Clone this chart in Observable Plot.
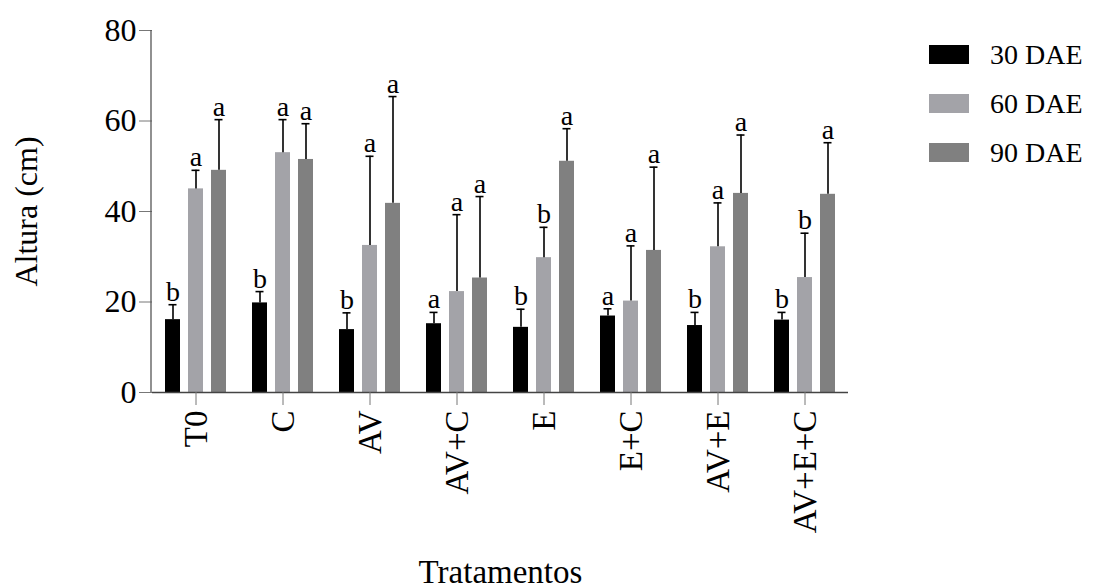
<!DOCTYPE html>
<html>
<head>
<meta charset="utf-8">
<script src="https://cdn.jsdelivr.net/npm/d3@7"></script>
<script src="https://cdn.jsdelivr.net/npm/@observablehq/plot@0.6"></script>
<style>
  html, body { margin: 0; padding: 0; background: #fff; }
  #wrap { position: relative; width: 1093px; height: 588px; overflow: hidden; font-family: "Liberation Serif", serif; }
  #chart { position: absolute; left: 0; top: 0; }
  #legend { position: absolute; left: 929px; top: 30px; }
  .item { display: flex; align-items: center; height: 49px; }
  .sw { width: 40px; height: 19px; margin-right: 21px; }
  .lb { font-size: 28px; color: #000; line-height: 1; font-family: "Liberation Serif", serif; }
  #chart svg text { font-family: "Liberation Serif", serif; }
</style>
</head>
<body>
<div id="wrap">
  <div id="chart"></div>
  <div id="legend"></div>
</div>
<script>
const treatments = ["T0", "C", "AV", "AV+C", "E", "E+C", "AV+E", "AV+E+C"];
const seriesNames = ["30 DAE", "60 DAE", "90 DAE"];
const seriesColors = ["#000000", "#a3a3a8", "#808080"];

const mean30 = [16.1, 19.8, 13.9, 15.2, 14.4, 16.9, 14.8, 16.0];
const mean60 = [45.0, 53.0, 32.5, 22.3, 29.8, 20.2, 32.2, 25.4];
const mean90 = [49.1, 51.5, 41.8, 25.3, 51.1, 31.4, 44.0, 43.8];

const sd30 = [3.3, 2.5, 3.7, 2.5, 4.0, 1.6, 2.9, 1.7];
const sd60 = [4.1, 7.3, 19.7, 17.0, 6.7, 12.2, 9.7, 9.8];
const sd90 = [11.2, 7.9, 23.6, 18.0, 7.2, 18.4, 12.9, 11.4];

const letters30 = ["b", "b", "b", "a", "b", "a", "b", "b"];
const letters60 = ["a", "a", "a", "a", "b", "a", "a", "b"];
const letters90 = ["a", "a", "a", "a", "a", "a", "a", "a"];

const yTicks = [0, 20, 40, 60, 80];

const means = [mean30, mean60, mean90];
const sds = [sd30, sd60, sd90];
const letters = [letters30, letters60, letters90];

const data = [];
treatments.forEach((t, i) => {
  seriesNames.forEach((s, j) => {
    data.push({
      treatment: t,
      series: s,
      value: means[j][i],
      upper: means[j][i] + sds[j][i],
      letter: letters[j][i]
    });
  });
});

const font = "Liberation Serif, serif";

const chart = Plot.plot({
  width: 1093,
  height: 588,
  marginLeft: 151,
  marginRight: 244,
  marginTop: 30,
  marginBottom: 196,
  style: { fontFamily: font, color: "#000", background: "white" },
  fx: { domain: treatments, paddingInner: 0, paddingOuter: 0 },
  x: { domain: seriesNames, paddingInner: 0.35, paddingOuter: 0.5, axis: null },
  y: { domain: [0, 80] },
  color: { domain: seriesNames, range: seriesColors },
  marks: [
    Plot.barY(data, { fx: "treatment", x: "series", y: "value", fill: "series" }),
    Plot.ruleX(data, { fx: "treatment", x: "series", y1: "value", y2: "upper", stroke: "#000", strokeWidth: 1.6 }),
    Plot.tickY(data, { fx: "treatment", x: "series", y: "upper", stroke: "#000", strokeWidth: 1.6, insetLeft: 3.5, insetRight: 3.5 }),
    Plot.text(data, { fx: "treatment", x: "series", y: "upper", text: "letter", lineAnchor: "bottom", dy: -4, fontSize: 28, fontFamily: font, fill: "#000" }),
    Plot.ruleY([0], { stroke: "#444", strokeWidth: 1.3 }),
    Plot.axisY({ ticks: yTicks, tickSize: 13, tickPadding: 3, fontSize: 32, fontFamily: font, stroke: "#777", label: "Altura (cm)", labelAnchor: "center", labelArrow: "none", labelOffset: 138 }),
    Plot.axisFx({ anchor: "bottom", tickSize: 13, tickPadding: 5, tickRotate: -90, fontSize: 33, fontFamily: font, stroke: "#777", label: "Tratamentos", labelAnchor: "center", labelArrow: "none", labelOffset: 190 })
  ]
});

// y-axis domain line from the library's scales
const ys = chart.scale("y");
const fxs = chart.scale("fx");
d3.select(chart).append("line")
  .attr("x1", fxs.range[0]).attr("x2", fxs.range[0])
  .attr("y1", ys.range[0]).attr("y2", ys.range[1])
  .attr("stroke", "#555").attr("stroke-width", 1.3);

document.getElementById("chart").appendChild(chart);

const legend = d3.select("#legend");
seriesNames.forEach((s, j) => {
  const row = legend.append("div").attr("class", "item");
  row.append("div").attr("class", "sw").style("background", seriesColors[j]);
  row.append("div").attr("class", "lb").style("font-family", "'Liberation Serif', serif").text(s);
});
</script>
</body>
</html>
